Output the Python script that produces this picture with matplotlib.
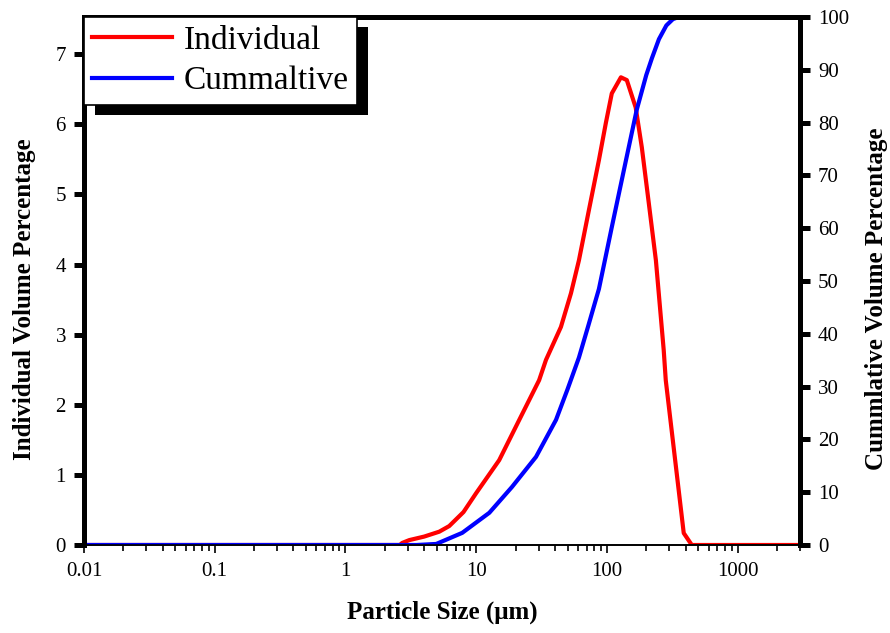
import numpy as np
import matplotlib
matplotlib.use("Agg")
import matplotlib.pyplot as plt
from matplotlib.ticker import FixedLocator, LogLocator, NullFormatter, FuncFormatter
from matplotlib.patches import Rectangle

plt.rcParams['font.family'] = ['Liberation Serif', 'DejaVu Serif']

"""Data read off the picture"""
# individual volume percentage (left axis)
size_ind = [0.01, 2.6, 2.72, 3.08, 4.0, 5.22, 6.22, 8.0, 10.0, 15.0, 21.3, 30.3, 34.2, 44.5,
            53.1, 61.1, 72.9, 86.9, 98.2, 109, 128, 142, 166, 185, 209, 237,
            272, 282, 387, 446, 3000]
vol_ind = [0, 0, 0.03, 0.07, 0.12, 0.19, 0.27, 0.47, 0.74, 1.21, 1.78, 2.35, 2.64, 3.11,
           3.59, 4.06, 4.78, 5.49, 6.02, 6.44, 6.67, 6.63, 6.24, 5.67, 4.88, 4.06,
           2.78, 2.35, 0.17, 0.0, 0]

# cumulative volume percentage (right axis)
size_cum = [0.01, 3.5, 4.95, 7.82, 12.6, 18.8, 28.7, 40.8, 50.0, 61.1, 72.0, 86.9, 109,
            140, 169, 200, 221, 250, 285, 320, 355, 3000]
vol_cum = [0, 0, 0.2, 2.3, 6.1, 11.0, 16.7, 23.7, 29.5, 35.5, 41.5, 48.5, 60.2,
           72.9, 82.4, 89.0, 92.2, 95.8, 98.4, 99.6, 100, 100]

xticks = [0.01, 0.1, 1, 10, 100, 1000]
xlabel = "Particle Size (\u03bcm)"
ylabel_left = "Individual Volume Percentage"
ylabel_right = "Cummlative Volume Percentage"
legend_labels = ["Individual", "Cummaltive"]

"""Figure"""
fig = plt.figure(figsize=(8.9, 6.33), dpi=100)
ax = fig.add_axes([84/890, 1 - 545/633, (800 - 84)/890, (545 - 17)/633])
ax2 = ax.twinx()

l1, = ax.plot(size_ind, vol_ind, color='red', lw=3)
l2, = ax2.plot(size_cum, vol_cum, color='blue', lw=3)

ax.set_xscale('log')
ax.set_xlim(0.01, 3000)
ax.set_ylim(0, 7.53)
ax2.set_ylim(0, 100)

ax.xaxis.set_major_locator(FixedLocator(xticks))
ax.xaxis.set_major_formatter(FuncFormatter(lambda v, p: '%g' % v))
ax.xaxis.set_minor_locator(LogLocator(base=10, subs=np.arange(2, 10)))
ax.xaxis.set_minor_formatter(NullFormatter())
ax.set_yticks(range(0, 8))
ax2.set_yticks(range(0, 101, 10))

for a in (ax, ax2):
    for side in ['left', 'right', 'top']:
        a.spines[side].set_linewidth(3.6)
    a.spines['bottom'].set_linewidth(1.2)

ax.tick_params(axis='y', which='major', direction='out', length=7, width=3.6,
               labelsize=15, pad=6)
ax2.tick_params(axis='y', which='major', direction='out', length=7, width=3.6,
                labelsize=15, pad=6)
ax.tick_params(axis='x', which='major', direction='out', length=6, width=1.2,
               labelsize=15, pad=6)
ax.tick_params(axis='x', which='minor', direction='out', length=4, width=1.2)

ax.set_xlabel(xlabel, fontsize=18, fontweight='bold')
ax.set_ylabel(ylabel_left, fontsize=18, fontweight='bold')
ax2.set_ylabel(ylabel_right, fontsize=18, fontweight='bold', rotation=90)
ax.xaxis.set_label_coords(0.5, -0.128)
ax.yaxis.set_label_coords(-0.083, 0.466)
ax2.yaxis.set_label_coords(1.1075, 0.466)
ax2.yaxis.label.set_va('center')
ax.yaxis.label.set_va('center')
ax.xaxis.label.set_va('center')

leg = ax2.legend([l1, l2], legend_labels, loc='upper left', bbox_to_anchor=(0, 1),
                 borderaxespad=0, fontsize=24, frameon=True, fancybox=False,
                 framealpha=1, edgecolor='black', handlelength=2.4,
                 handletextpad=0.35, borderpad=0.25, labelspacing=0.3)
leg.get_frame().set_linewidth(1.2)
leg.set_zorder(10)

"""Shadow behind legend"""
fig.canvas.draw()
bb = leg.get_window_extent()
shadow = Rectangle((bb.x0 + 11, bb.y0 - 10), bb.width, bb.height,
                   transform=None, facecolor='black', edgecolor='none',
                   zorder=9, clip_on=False)
ax2.add_artist(shadow)

plt.savefig("out.png", dpi=100)
